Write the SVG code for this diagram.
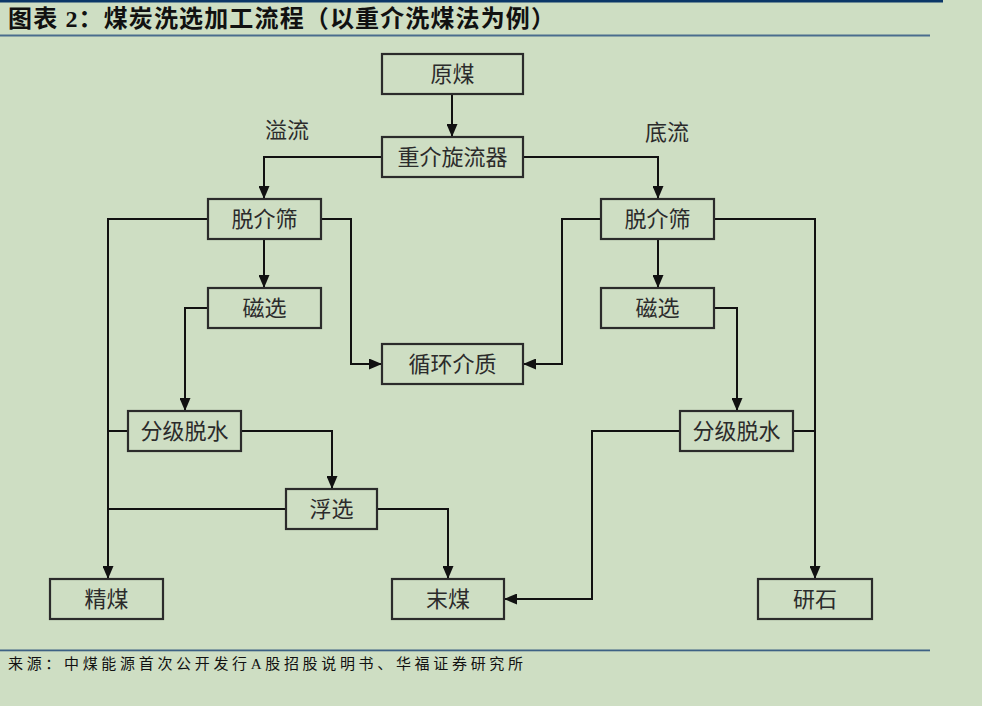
<svg xmlns="http://www.w3.org/2000/svg" width="982" height="706" viewBox="0 0 982 706">
<defs>
<style>
.bg{fill:#cedec3}
.box rect{fill:none;stroke:#2b2b2b;stroke-width:2.2}
.box text,.lbl{font-family:"Liberation Serif","Noto Sans CJK SC",serif;font-size:22px;fill:#2b2b2b;text-anchor:middle;dominant-baseline:central}
.conn path{fill:none;stroke:#111;stroke-width:2}
.title{font-family:"Liberation Serif","Noto Sans CJK SC",serif;font-size:24px;font-weight:bold;fill:#111}
.src{font-family:"Liberation Serif","Noto Sans CJK SC",serif;font-size:15px;fill:#111}
</style>
<marker id="arr" viewBox="0 0 13 11" refX="13" refY="5.5" markerWidth="13" markerHeight="11" markerUnits="userSpaceOnUse" orient="auto">
<path d="M0,0 L13,5.5 L0,11 Z" fill="#111"/>
</marker>
</defs>
<rect class="bg" x="0" y="0" width="982" height="706"/>
<rect x="0" y="0" width="943" height="2.5" fill="#0b3768"/>
<text class="title" x="8" y="27" textLength="547" lengthAdjust="spacing">图表 2：煤炭洗选加工流程（以重介洗煤法为例）</text>
<rect x="0" y="34.5" width="930" height="2" fill="#4a6d8e"/>
<rect x="0" y="649.5" width="930" height="1.8" fill="#3d6184"/>
<text class="src" x="8" y="669" textLength="515" lengthAdjust="spacing">来源：中煤能源首次公开发行A股招股说明书、华福证券研究所</text>

<text class="lbl" x="287" y="130">溢流</text>
<text class="lbl" x="667" y="132">底流</text>

<g class="conn" id="connectors">
<path d="M452,94 V137" marker-end="url(#arr)"/>
<path d="M382,157 H264 V199" marker-end="url(#arr)"/>
<path d="M523,157 H658 V199" marker-end="url(#arr)"/>
<path d="M208,219 H108 V579" marker-end="url(#arr)"/>
<path d="M321,219 H351 V364 H382" marker-end="url(#arr)"/>
<path d="M264,239 V288" marker-end="url(#arr)"/>
<path d="M208,308 H185 V411" marker-end="url(#arr)"/>
<path d="M128,431 H108"/>
<path d="M241,431 H332 V489" marker-end="url(#arr)"/>
<path d="M286,509 H108"/>
<path d="M377,509 H448 V579" marker-end="url(#arr)"/>
<path d="M601,219 H562 V364 H523" marker-end="url(#arr)"/>
<path d="M714,219 H815 V579" marker-end="url(#arr)"/>
<path d="M658,239 V288" marker-end="url(#arr)"/>
<path d="M714,308 H737 V411" marker-end="url(#arr)"/>
<path d="M793,431 H815"/>
<path d="M680,431 H592 V599 H504" marker-end="url(#arr)"/>
</g>

<g class="box" id="n-yuanmei"><rect x="382" y="54" width="141" height="40"/><text x="452.5" y="74">原煤</text></g>
<g class="box" id="n-xuanliu"><rect x="382" y="137" width="141" height="40"/><text x="452.5" y="157">重介旋流器</text></g>
<g class="box" id="n-tjs-l"><rect x="208" y="199" width="113" height="40"/><text x="264.5" y="219">脱介筛</text></g>
<g class="box" id="n-tjs-r"><rect x="601" y="199" width="113" height="40"/><text x="657.5" y="219">脱介筛</text></g>
<g class="box" id="n-cx-l"><rect x="208" y="288" width="113" height="40"/><text x="264.5" y="308">磁选</text></g>
<g class="box" id="n-cx-r"><rect x="601" y="288" width="113" height="40"/><text x="657.5" y="308">磁选</text></g>
<g class="box" id="n-xhjz"><rect x="382" y="344" width="141" height="40"/><text x="452.5" y="364">循环介质</text></g>
<g class="box" id="n-fjts-l"><rect x="128" y="411" width="113" height="40"/><text x="184.5" y="431">分级脱水</text></g>
<g class="box" id="n-fjts-r"><rect x="680" y="411" width="113" height="40"/><text x="736.5" y="431">分级脱水</text></g>
<g class="box" id="n-fx"><rect x="286" y="489" width="91" height="40"/><text x="331.5" y="509">浮选</text></g>
<g class="box" id="n-jm"><rect x="50" y="579" width="113" height="40"/><text x="106.5" y="599">精煤</text></g>
<g class="box" id="n-mm"><rect x="392" y="579" width="112" height="40"/><text x="448" y="599">末煤</text></g>
<g class="box" id="n-ys"><rect x="758" y="579" width="114" height="40"/><text x="815" y="599">研石</text></g>
</svg>
